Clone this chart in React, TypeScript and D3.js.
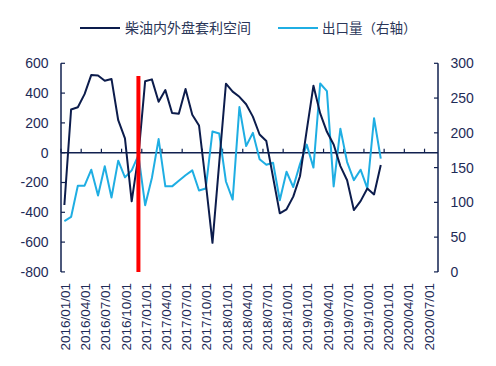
import React from "react";
import * as d3 from "d3";

// Monthly categories 2016/01 .. 2020/08
const months: string[] = d3
  .timeMonth.range(new Date(2016, 0, 1), new Date(2020, 8, 1))
  .map((d) => d3.timeFormat("%Y/%m/%d")(d));

const tickLabels = [
  "2016/01/01", "2016/04/01", "2016/07/01", "2016/10/01",
  "2017/01/01", "2017/04/01", "2017/07/01", "2017/10/01",
  "2018/01/01", "2018/04/01", "2018/07/01", "2018/10/01",
  "2019/01/01", "2019/04/01", "2019/07/01", "2019/10/01",
  "2020/01/01", "2020/04/01", "2020/07/01",
];

// 柴油内外盘套利空间 (left axis)
const spread = [
  -351, 290, 305, 393, 522, 518, 483, 495, 218, 96, -326, -20,
  480, 492, 342, 420, 266, 262, 428, 255, 183, -200, -605, -70,
  463, 410, 375, 325, 242, 122, 78, -165, -407, -380, -295, -158,
  150, 450, 264, 140, 55, -90, -185, -385, -325, -240, -280, -83,
];

// 出口量（右轴）
const exportsVol = [
  73, 79, 124, 124, 147, 110, 152, 107, 160, 136, 146, 168,
  96, 135, 191, 123, 123, 131, 139, 146, 117, 120, 202, 199,
  130, 104, 237, 181, 200, 162, 154, 157, 103, 144, 122, 155,
  183, 150, 271, 260, 123, 206, 158, 132, 147, 120, 221, 163,
];

const leftTicks = [600, 400, 200, 0, -200, -400, -600, -800];
const rightTicks = [300, 250, 200, 150, 100, 50, 0];

const markerMonth = "2016/12/01";
const markerRange = [515, -800];

const seriesNames = ["柴油内外盘套利空间", "出口量（右轴）"];

const DARK = "#0C1C4C";
const LIGHT = "#1FAEE3";
const AXIS = "#10204F";
const TEXT = "#1E2B57";

export default function App() {
  const x = d3.scaleBand<string>().domain(months).range([61, 438]).padding(0);
  const yL = d3.scaleLinear().domain([-800, 600]).range([271.9, 63.3]);
  const yR = d3.scaleLinear().domain([0, 300]).range([271.9, 63.3]);
  const cx = (m: string) => (x(m) as number) + x.bandwidth() / 2;

  const lineL = d3
    .line<number>()
    .x((_, i) => cx(months[i]))
    .y((d) => yL(d));
  const lineR = d3
    .line<number>()
    .x((_, i) => cx(months[i]))
    .y((d) => yR(d));

  const latin = "'Liberation Sans', Arial, sans-serif";
  const cjk = "'Liberation Sans', 'Noto Sans CJK SC', sans-serif";

  return (
    <svg width={496} height={366} style={{ position: "absolute", left: 0, top: 0 }}>
      <rect width={496} height={366} fill="#fff" />
      {/* legend */}
      <line x1={80} x2={120} y1={28} y2={28} stroke={DARK} strokeWidth={2} />
      <text x={125} y={28} dominantBaseline="central" fontFamily={cjk} fontSize={14} fill="#2A3658">
        {seriesNames[0]}
      </text>
      <line x1={278} x2={318} y1={28} y2={28} stroke={LIGHT} strokeWidth={2} />
      <text x={322} y={28} dominantBaseline="central" fontFamily={cjk} fontSize={13.5} fill="#2A3658">
        {seriesNames[1]}
      </text>

      {/* left axis */}
      <line x1={61} x2={61} y1={yL(600)} y2={yL(-800)} stroke={AXIS} strokeWidth={1.5} />
      {leftTicks.map((t) => (
        <g key={"l" + t}>
          <line x1={61} x2={65} y1={yL(t)} y2={yL(t)} stroke={AXIS} strokeWidth={1.2} />
          <text x={48.5} y={yL(t)} dy="0.35em" textAnchor="end" fontFamily={latin} fontSize={14} fill={TEXT}>
            {t}
          </text>
        </g>
      ))}
      {/* right axis */}
      <line x1={438} x2={438} y1={yR(300)} y2={yR(0)} stroke={AXIS} strokeWidth={1.5} />
      {rightTicks.map((t) => (
        <g key={"r" + t}>
          <line x1={434} x2={438} y1={yR(t)} y2={yR(t)} stroke={AXIS} strokeWidth={1.2} />
          <text x={450.5} y={yR(t)} dy="0.35em" textAnchor="start" fontFamily={latin} fontSize={14} fill={TEXT}>
            {t}
          </text>
        </g>
      ))}
      {/* x axis at zero */}
      <line x1={61} x2={438} y1={yL(0)} y2={yL(0)} stroke={AXIS} strokeWidth={1.5} />
      {tickLabels.map((lab) => {
        const xs = x(lab) as number;
        return (
          <g key={lab}>
            <line x1={xs} x2={xs} y1={yL(0)} y2={yL(0) - 4} stroke={AXIS} strokeWidth={1.2} />
            <text
              transform={`translate(${cx(lab) + 1},283) rotate(-90)`}
              dy="0.35em"
              textAnchor="end"
              fontFamily={latin}
              fontSize={13.5}
              fill={TEXT}
            >
              {lab}
            </text>
          </g>
        );
      })}

      {/* series */}
      <path d={lineR(exportsVol) as string} fill="none" stroke={LIGHT} strokeWidth={2} strokeLinejoin="round" />
      <path d={lineL(spread) as string} fill="none" stroke={DARK} strokeWidth={2} strokeLinejoin="round" />

      {/* red marker */}
      <line
        x1={cx(markerMonth)}
        x2={cx(markerMonth)}
        y1={yL(markerRange[0])}
        y2={yL(markerRange[1])}
        stroke="#FF0000"
        strokeWidth={4}
      />
    </svg>
  );
}
